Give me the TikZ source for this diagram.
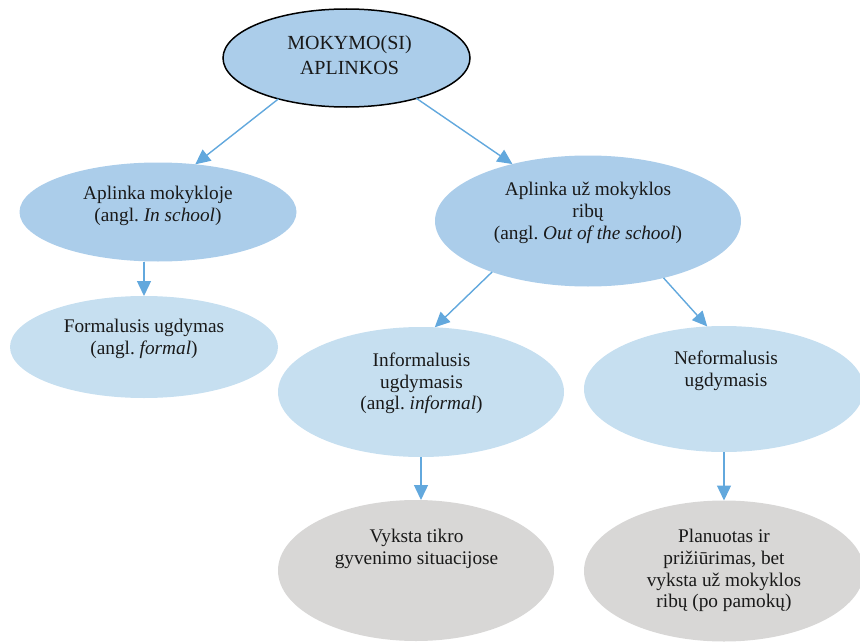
\documentclass[tikz,border=0pt]{standalone}
\usepackage{fontspec}
\setmainfont{Liberation Serif}
\usetikzlibrary{shapes.geometric,arrows.meta}
\frenchspacing

\definecolor{bluemid}{RGB}{171,205,234}
\definecolor{bluelight}{RGB}{198,223,240}
\definecolor{greyfill}{RGB}{216,215,214}
\definecolor{arrowblue}{RGB}{98,168,221}
\definecolor{inktext}{RGB}{25,25,25}

\tikzset{
  bubble/.style={ellipse, inner sep=0pt, outer sep=0pt, draw=none},
  rootbubble/.style={bubble, fill=bluemid, draw=black, line width=1.5pt},
  midbubble/.style={bubble, fill=bluemid},
  lightbubble/.style={bubble, fill=bluelight},
  greybubble/.style={bubble, fill=greyfill},
  caption/.style={align=center, inner sep=0pt, text=inktext,
    font=\fontsize{19.3}{21.7}\selectfont},
  rootcaption/.style={caption, font=\fontsize{20}{25}\selectfont},
  link/.style={draw=arrowblue, line width=1.4pt,
    -{Triangle[length=15pt,width=14pt]}, fill=arrowblue}
}

\begin{document}
\begin{tikzpicture}[x=1pt,y=-1pt]
  \useasboundingbox (0,0) rectangle (860,642);

  % ellipses
  \node[rootbubble, minimum width=247pt, minimum height=98pt]  (root)   at (346.5,58) {};
  \node[midbubble,  minimum width=277pt, minimum height=99pt]  (school) at (158,212)  {};
  \node[midbubble,  minimum width=306pt, minimum height=131pt] (out)    at (588,221)  {};
  \node[lightbubble,minimum width=268pt, minimum height=102pt] (formal) at (144,347)  {};
  \node[lightbubble,minimum width=286pt, minimum height=130pt] (inform) at (421,392)  {};
  \node[lightbubble,minimum width=280pt, minimum height=126pt] (neform) at (724,389)  {};
  \node[greybubble, minimum width=276pt, minimum height=141pt] (real)   at (416,570.5) {};
  \node[greybubble, minimum width=280pt, minimum height=141pt] (plan)   at (724,571)  {};

  % captions
  \node[rootcaption] (rootT) at (349.5,57) {\strut MOKYMO(SI)\\APLINKOS\strut};
  \node[caption] (schoolT) at (158,206) {\strut Aplinka mokykloje\\(angl.\ \textit{In school})\strut};
  \node[caption] (outT) at (588,213.3) {\strut Aplinka už mokyklos\\ribų\\(angl.\ \textit{Out of the school})\strut};
  \node[caption] (formalT) at (144,339.5) {\strut Formalusis ugdymas\\(angl.\ \textit{formal})\strut};
  \node[caption] (informT) at (421.5,383.7) {\strut Informalusis\\ugdymasis\\(angl.\ \textit{informal})\strut};
  \node[caption] (neformT) at (726,371) {\strut Neformalusis\\ugdymasis\strut};
  \node[caption] (realT) at (416.5,549) {\strut Vyksta tikro\\gyvenimo situacijose\strut};
  \node[caption] (planT) at (724,571) {\strut Planuotas ir\\prižiūrimas, bet\\vyksta už mokyklos\\ribų (po pamokų)\strut};

  % connectors
  \draw[link] (root.211.5) -- (school.52.4);
  \draw[link] (root.330.8) -- (out.143.3);
  \draw[link] (formal.north |- school.south) -- (formal.north);
  \draw[link] (out.208.6) -- (inform.78);
  \draw[link] (out.323.6) -- (neform.105.1);
  \draw[link] (inform.south) -- (inform.south |- real.north);
  \draw[link] (neform.south) -- (neform.south |- plan.north);
\end{tikzpicture}
\end{document}
